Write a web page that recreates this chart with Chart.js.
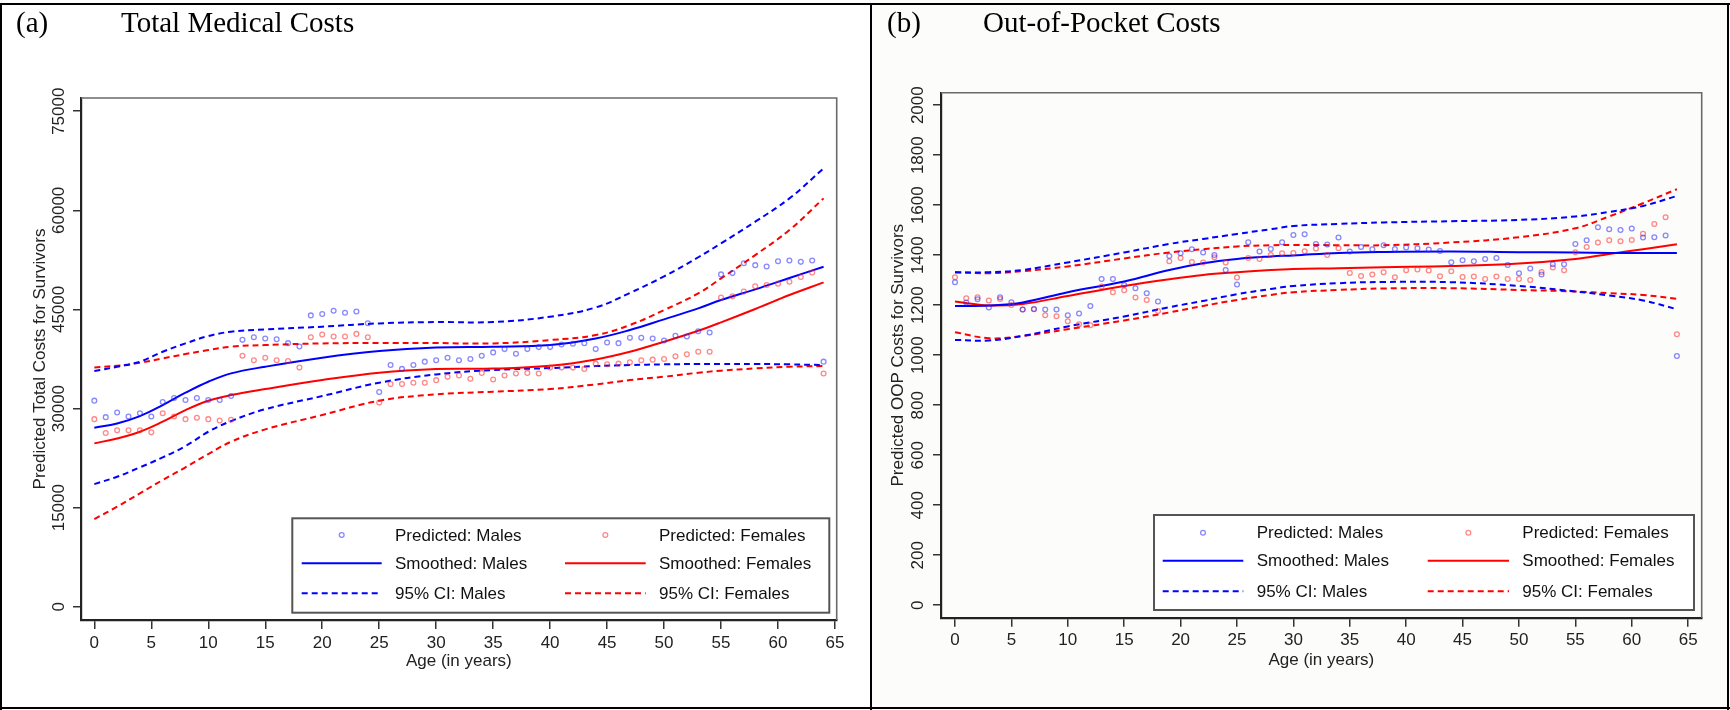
<!DOCTYPE html>
<html><head><meta charset="utf-8">
<script src="https://cdn.jsdelivr.net/npm/chart.js@4"></script>
<style>
html,body{margin:0;padding:0;background:#fff;}
#wrap{position:relative;width:1730px;height:710px;overflow:hidden;background:#fff;}
canvas{position:absolute;top:0;}
#ca{left:0;}
#cb{left:872px;background:#fcfcfa;}
.fr{position:absolute;background:#000;}
.ttl{position:absolute;font-family:"Liberation Serif","Times New Roman",serif;font-size:29px;color:#000;line-height:1;white-space:nowrap;}
</style></head>
<body><div id="wrap">
<canvas id="ca" width="871" height="710"></canvas>
<canvas id="cb" width="858" height="710"></canvas>
<div class="fr" style="left:0;top:3px;width:1730px;height:2px"></div>
<div class="fr" style="left:0;top:3px;width:2px;height:707px"></div>
<div class="fr" style="left:1727px;top:3px;width:2px;height:707px"></div>
<div class="fr" style="left:0;top:707px;width:1730px;height:2px"></div>
<div class="fr" style="left:870px;top:3px;width:2px;height:707px"></div>
<div class="ttl" style="left:16px;top:8px">(a)</div>
<div class="ttl" style="left:121px;top:8px">Total Medical Costs</div>
<div class="ttl" style="left:887px;top:8px">(b)</div>
<div class="ttl" style="left:983px;top:8px">Out-of-Pocket Costs</div>
</div>
<script>
// ---------- data ----------
const ages = [0,1,2,3,4,5,6,7,8,9,10,11,12,13,14,15,16,17,18,19,20,21,22,23,24,25,26,27,28,29,30,31,32,33,34,35,36,37,38,39,40,41,42,43,44,45,46,47,48,49,50,51,52,53,54,55,56,57,58,59,60,61,62,63,64];
const xTickValues = [0,5,10,15,20,25,30,35,40,45,50,55,60,65];

// (a) Total medical costs
const totYTicks = [0,15000,30000,45000,60000,75000];
const totMalesPred = [31200,28700,29400,28800,29300,28800,31000,31600,31300,31600,31300,31300,31900,40400,40800,40600,40500,39900,39400,44100,44300,44800,44500,44700,42900,32500,36600,36000,36600,37100,37300,37700,37300,37500,38000,38500,39000,38300,39000,39300,39300,39700,39800,39900,39000,40000,39900,40700,40700,40600,40300,41000,40900,41700,41500,50300,50500,52000,51700,51500,52300,52400,52200,52400,37100];
const totFemalesPred = [28400,26300,26700,26700,26700,26400,29300,28800,28400,28600,28400,28200,28300,38000,37300,37700,37300,37200,36200,40800,41200,40900,40900,41300,40800,30900,33700,33700,33900,33900,34300,34800,35000,34500,35400,34400,35000,35300,35400,35300,36200,36200,36200,36000,36800,36700,36800,37000,37300,37400,37500,37900,38200,38600,38600,46800,47000,47700,48500,48700,48900,49200,49900,50600,35300];
const totCurveAges = [0,2,4,6,8,10,12,15,20,25,30,35,40,44,47,50,53,55,58,61,64];
const totMalesSmooth = [27100,27750,28860,30530,32400,34060,35320,36330,37700,38700,39230,39350,39610,40600,41880,43500,45160,46420,48040,49750,51470];
const totFemalesSmooth = [24730,25480,26490,28010,29770,31190,32040,32950,34310,35420,35980,36050,36480,37440,38600,40120,41780,43040,45060,47180,49100];
const totMalesHi = [35675,36330,37090,38600,39860,40970,41630,41980,42390,42890,43090,43100,43900,45300,47500,50000,52900,55000,58280,61810,66350];
const totMalesLo = [18570,19680,21100,22610,24320,26490,28100,29900,31890,33910,35170,35830,36130,36430,36580,36690,36740,36740,36740,36690,36580];
const totFemalesHi = [36230,36480,36940,37590,38250,38850,39360,39610,39860,39910,39910,39860,40370,41120,42640,44910,47430,49700,53230,57020,61810];
const totFemalesLo = [13270,15140,17160,19180,21100,23110,24980,26850,29020,31190,32140,32550,32950,33660,34310,34820,35420,35730,36080,36330,36430];

// (b) Out-of-pocket costs
const oopYTicks = [0,200,400,600,800,1000,1200,1400,1600,1800,2000];
const oopMalesPred = [1292,1211,1224,1191,1232,1212,1183,1185,1183,1183,1160,1167,1197,1305,1305,1281,1268,1248,1215,1397,1408,1424,1411,1401,1341,1283,1452,1415,1425,1452,1481,1484,1445,1443,1471,1415,1433,1424,1440,1425,1431,1428,1423,1417,1372,1380,1376,1385,1389,1361,1328,1347,1323,1364,1364,1445,1460,1512,1504,1501,1507,1471,1472,1479,997];
const oopFemalesPred = [1312,1228,1232,1219,1225,1201,1183,1184,1160,1156,1136,1124,1120,1275,1252,1260,1231,1221,1177,1376,1389,1373,1371,1392,1371,1311,1389,1385,1401,1408,1409,1416,1427,1401,1428,1329,1317,1323,1332,1312,1340,1343,1339,1316,1336,1313,1315,1305,1315,1305,1305,1301,1333,1351,1340,1412,1433,1451,1460,1456,1461,1486,1525,1552,1084];
const oopCurveAges = [0,3,6,10,15,19,22,25,28,30,34,38,44,50,55,58,61,64];
const oopMalesSmooth = [1197,1199,1211,1252,1295,1341,1368,1385,1395,1399,1409,1413,1415,1412,1411,1409,1409,1409];
const oopFemalesSmooth = [1215,1199,1205,1237,1277,1304,1321,1332,1341,1345,1348,1352,1357,1367,1385,1405,1424,1444];
const oopMalesHi = [1331,1332,1341,1371,1411,1445,1465,1485,1504,1517,1525,1531,1536,1541,1555,1573,1597,1637];
const oopMalesLo = [1061,1059,1077,1115,1155,1192,1217,1244,1265,1277,1288,1293,1292,1277,1255,1239,1219,1184];
const oopFemalesHi = [1333,1328,1336,1355,1387,1411,1424,1435,1440,1441,1440,1440,1451,1472,1508,1555,1608,1664];
const oopFemalesLo = [1092,1068,1077,1104,1139,1171,1197,1221,1241,1252,1261,1267,1268,1261,1255,1248,1241,1225];

const yTitleTot = 'Predicted Total Costs for Survivors';
const yTitleOop = 'Predicted OOP Costs for Survivors';
const xTitle = 'Age (in years)';
const legendLabels = ['Predicted: Males','Predicted: Females','Smoothed: Males','Smoothed: Females','95% CI: Males','95% CI: Females'];

// ---------- styling ----------
const FONT = '"Liberation Sans", Arial, sans-serif';
const BLUE = '#0000ff', RED = '#ff0000';
const BLUE_PT = 'rgba(40,40,255,0.55)', RED_PT = 'rgba(255,40,40,0.55)';
const DASH = [6,4];

function pts(xs, ys){ return xs.map((x,i)=>({x:x, y:ys[i]})); }
function lineDs(xs, ys, color, dashed){
  return {data: pts(xs, ys), showLine:true, borderColor:color, borderWidth:2,
    borderDash: dashed ? DASH : [], pointRadius:0, tension:0.4, fill:false};
}
function pointDs(xs, ys, color){
  return {data: pts(xs, ys), showLine:false, pointStyle:'circle', pointRadius:2.4,
    pointBorderWidth:1.3, pointBorderColor:color, pointBackgroundColor:'rgba(0,0,0,0)', borderColor:color};
}

const panelPlugin = {
  id:'panelDeco',
  afterDraw(chart, args, o){
    const ctx = chart.ctx, ca = chart.chartArea, ys = chart.scales.y;
    ctx.save();
    ctx.strokeStyle = '#6a6a6a'; ctx.lineWidth = 1.6;
    ctx.beginPath();
    ctx.moveTo(ca.left, ca.top); ctx.lineTo(ca.right, ca.top); ctx.lineTo(ca.right, ca.bottom);
    ctx.stroke();
    ctx.font = '17px ' + FONT; ctx.fillStyle = '#222';
    ctx.textAlign = 'center'; ctx.textBaseline = 'middle';
    ys.ticks.forEach(t => {
      const y = ys.getPixelForValue(t.value);
      ctx.save(); ctx.translate(o.tickX, y); ctx.rotate(-Math.PI/2);
      ctx.fillText(String(t.value), 0, 0); ctx.restore();
    });
    const L = o.legend;
    ctx.fillStyle = '#fff';
    ctx.fillRect(L.left, L.top, L.right-L.left, L.bottom-L.top);
    ctx.strokeStyle = '#555'; ctx.lineWidth = 2;
    ctx.strokeRect(L.left, L.top, L.right-L.left, L.bottom-L.top);
    const ds = chart.data.datasets;
    const entries = [
      {d:ds[0], col:0, row:0, type:'pt'}, {d:ds[1], col:1, row:0, type:'pt'},
      {d:ds[2], col:0, row:1, type:'ln'}, {d:ds[3], col:1, row:1, type:'ln'},
      {d:ds[4], col:0, row:2, type:'ln'}, {d:ds[6], col:1, row:2, type:'ln'}];
    entries.forEach((e,i) => {
      const y = L.rows[e.row], c = L.cols[e.col];
      if (e.type === 'pt'){
        ctx.beginPath(); ctx.strokeStyle = e.d.pointBorderColor; ctx.lineWidth = 1.3;
        ctx.arc((c.x1+c.x2)/2, y, 2.4, 0, Math.PI*2); ctx.stroke();
      } else {
        ctx.beginPath(); ctx.strokeStyle = e.d.borderColor; ctx.lineWidth = 2;
        ctx.setLineDash(e.d.borderDash || []);
        ctx.moveTo(c.x1, y); ctx.lineTo(c.x2, y); ctx.stroke(); ctx.setLineDash([]);
      }
      ctx.fillStyle = '#111'; ctx.textAlign = 'left'; ctx.textBaseline = 'middle';
      ctx.font = '17px ' + FONT;
      ctx.fillText(legendLabels[i], c.tx, y+1);
    });
    ctx.restore();
  }
};

function makeChart(id, cfg){
  const datasets = [
    pointDs(ages, cfg.mp, BLUE_PT), pointDs(ages, cfg.fp, RED_PT),
    lineDs(cfg.ca, cfg.ms, BLUE, false), lineDs(cfg.ca, cfg.fs, RED, false),
    lineDs(cfg.ca, cfg.mh, BLUE, true), lineDs(cfg.ca, cfg.ml, BLUE, true),
    lineDs(cfg.ca, cfg.fh, RED, true), lineDs(cfg.ca, cfg.fl, RED, true)
  ];
  datasets.forEach((d,i)=>{ d.order = i < 2 ? 0 : 1; });
  return new Chart(document.getElementById(id), {
    type:'scatter',
    data:{datasets},
    plugins:[panelPlugin],
    options:{
      responsive:false, animation:false, devicePixelRatio:1, events:[],
      layout:{padding:{left:0, top:cfg.top, right:cfg.right, bottom:0}},
      plugins:{legend:{display:false}, tooltip:{enabled:false},
        panelDeco:{tickX:cfg.tickX, legend:cfg.legend}},
      scales:{
        x:{type:'linear', position:'bottom', min:cfg.xmin, max:cfg.xmax,
          afterBuildTicks: s => { s.ticks = xTickValues.map(v=>({value:v})); },
          afterFit: s => { s.height = cfg.xh; },
          grid:{drawOnChartArea:false, drawTicks:true, tickLength:9, color:'#333', lineWidth:1.5},
          border:{display:true, color:'#222', width:2.2},
          ticks:{font:{family:FONT, size:17}, color:'#222', padding:cfg.xpad, maxRotation:0, autoSkip:false},
          title:{display:true, text:xTitle, font:{family:FONT, size:17}, color:'#222', padding:{top:0, bottom:cfg.xtpad}}
        },
        y:{type:'linear', position:'left', min:cfg.ymin, max:cfg.ymax,
          afterBuildTicks: s => { s.ticks = cfg.yt.map(v=>({value:v})); },
          afterFit: s => { s.width = cfg.yw; },
          grid:{drawOnChartArea:false, drawTicks:true, tickLength:8, color:'#333', lineWidth:1.5},
          border:{display:true, color:'#222', width:2.2},
          ticks:{display:false},
          title:{display:true, text:cfg.ytitle, font:{family:FONT, size:17}, color:'#222', padding:{top:cfg.ytpad, bottom:0}}
        }
      }
    }
  });
}

makeChart('ca', {
  mp:totMalesPred, fp:totFemalesPred, ca:totCurveAges,
  ms:totMalesSmooth, fs:totFemalesSmooth, mh:totMalesHi, ml:totMalesLo, fh:totFemalesHi, fl:totFemalesLo,
  yt:totYTicks, ytitle:yTitleTot,
  xmin:-1.17, xmax:65.15, ymin:-2000, ymax:77000,
  top:98, right:34.3, yw:81, xh:90, xpad:3.8, xtpad:38.5, ytpad:29.8, tickX:59.2,
  legend:{left:292.3, top:518.3, right:829.3, bottom:612.7, rows:[535,563.3,593.3],
    cols:[{x1:301.7, x2:381.7, tx:395}, {x1:565, x2:645.7, tx:659}]}
});

makeChart('cb', {
  mp:oopMalesPred, fp:oopFemalesPred, ca:oopCurveAges,
  ms:oopMalesSmooth, fs:oopFemalesSmooth, mh:oopMalesHi, ml:oopMalesLo, fh:oopFemalesHi, fl:oopFemalesLo,
  yt:oopYTicks, ytitle:yTitleOop,
  xmin:-1.24, xmax:66.2, ymin:-50, ymax:2050,
  top:92.7, right:28.3, yw:69, xh:92.3, xpad:3.5, xtpad:39.8, ytpad:15.8, tickX:46.3,
  legend:{left:282, top:515, right:822, bottom:610, rows:[532.7,560.7,591.3],
    cols:[{x1:290.7, x2:371.3, tx:384.7}, {x1:555.7, x2:637, tx:650.3}]}
});
</script>
</body></html>
